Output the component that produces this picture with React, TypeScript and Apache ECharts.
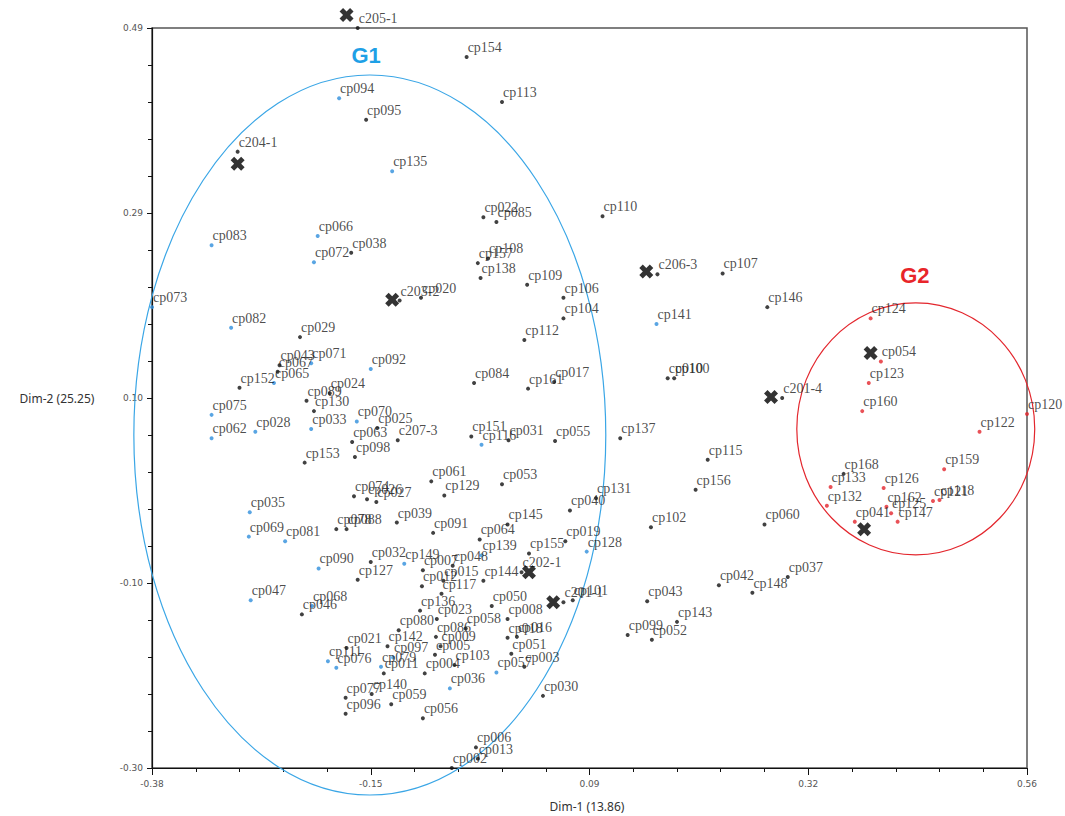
import React, { useEffect, useRef } from "react";
import * as echarts from "echarts";

// [name, Dim-1, Dim-2]
const blackPoints: [string, number, number][] = [
  ["c205-1", -0.159, 0.49],
  ["cp154", -0.042, 0.459],
  ["cp113", -0.004, 0.411],
  ["cp095", -0.15, 0.392],
  ["c204-1", -0.288, 0.358],
  ["cp038", -0.166, 0.25],
  ["cp029", -0.221, 0.16],
  ["c203-2", -0.114, 0.199],
  ["cp020", -0.091, 0.202],
  ["cp043", -0.243, 0.13],
  ["cp067", -0.245, 0.123],
  ["cp152", -0.286, 0.106],
  ["cp089", -0.214, 0.092],
  ["cp024", -0.189, 0.1],
  ["cp130", -0.206, 0.081],
  ["cp025", -0.138, 0.063],
  ["cp063", -0.165, 0.048],
  ["c207-3", -0.116, 0.05],
  ["cp098", -0.162, 0.032],
  ["cp153", -0.216, 0.026],
  ["cp074", -0.163, -0.01],
  ["cp026", -0.149, -0.013],
  ["cp027", -0.139, -0.016],
  ["cp061", -0.08, 0.006],
  ["cp078", -0.182, -0.045],
  ["cp088", -0.171, -0.045],
  ["cp039", -0.117, -0.038],
  ["cp091", -0.078, -0.049],
  ["cp032", -0.145, -0.08],
  ["cp127", -0.159, -0.099],
  ["cp046", -0.219, -0.136],
  ["cp021", -0.171, -0.172],
  ["cp142", -0.127, -0.17],
  ["cp080", -0.115, -0.153],
  ["cp011", -0.131, -0.199],
  ["cp077", -0.172, -0.225],
  ["cp140", -0.144, -0.221],
  ["cp096", -0.172, -0.242],
  ["cp059", -0.123, -0.232],
  ["cp056", -0.089, -0.247],
  ["cp002", -0.058, -0.3],
  ["cp006", -0.032, -0.278],
  ["cp013", -0.03, -0.29],
  ["cp030", 0.04, -0.223],
  ["cp099", 0.131, -0.158],
  ["cp052", 0.157, -0.163],
  ["cp143", 0.184, -0.144],
  ["cp051", 0.006, -0.178],
  ["cp003", 0.02, -0.192],
  ["cp058", -0.043, -0.151],
  ["cp008", 0.002, -0.141],
  ["cp018", 0.002, -0.161],
  ["cp016", 0.012, -0.16],
  ["cp050", -0.015, -0.127],
  ["cp023", -0.074, -0.141],
  ["cp136", -0.092, -0.132],
  ["cp086", -0.075, -0.16],
  ["cp009", -0.07, -0.17],
  ["cp005", -0.076, -0.179],
  ["cp103", -0.055, -0.19],
  ["cp004", -0.087, -0.199],
  ["cp117", -0.069, -0.114],
  ["cp015", -0.067, -0.1],
  ["cp007", -0.089, -0.089],
  ["cp012", -0.09, -0.106],
  ["cp048", -0.057, -0.084],
  ["cp064", -0.028, -0.056],
  ["cp145", 0.002, -0.04],
  ["cp155", 0.025, -0.071],
  ["cp019", 0.064, -0.058],
  ["cp040", 0.069, -0.025],
  ["cp131", 0.097, -0.012],
  ["cp053", -0.004, 0.003],
  ["cp129", -0.066, -0.009],
  ["cp151", -0.037, 0.054],
  ["cp031", 0.003, 0.05],
  ["cp055", 0.053, 0.049],
  ["cp137", 0.123, 0.052],
  ["cp115", 0.217, 0.029],
  ["cp156", 0.204, -0.003],
  ["cp102", 0.156, -0.043],
  ["cp144", -0.024, -0.1],
  ["c202-1", 0.017, -0.091],
  ["cp043", 0.152, -0.122],
  ["cp042", 0.229, -0.105],
  ["cp148", 0.265, -0.113],
  ["cp037", 0.303, -0.096],
  ["cp060", 0.278, -0.04],
  ["c201-1", 0.062, -0.123],
  ["cp101", 0.072, -0.121],
  ["cp022", -0.024, 0.288],
  ["cp085", -0.01, 0.283],
  ["cp110", 0.104, 0.289],
  ["cp157", -0.03, 0.239],
  ["cp108", -0.019, 0.244],
  ["cp138", -0.027, 0.223],
  ["cp109", 0.023, 0.216],
  ["cp106", 0.062, 0.202],
  ["cp104", 0.062, 0.18],
  ["cp112", 0.02, 0.157],
  ["cp084", -0.034, 0.111],
  ["cp161", 0.024, 0.105],
  ["cp017", 0.052, 0.112],
  ["c206-3", 0.163, 0.227],
  ["cp010", 0.174, 0.116],
  ["cp100", 0.181, 0.116],
  ["cp107", 0.233, 0.228],
  ["cp146", 0.281, 0.192],
  ["c201-4", 0.297, 0.095],
  ["cp168", 0.363, 0.014],
];

const bluePoints: [string, number, number][] = [
  ["cp094", -0.179, 0.415],
  ["cp135", -0.122, 0.337],
  ["cp083", -0.316, 0.258],
  ["cp066", -0.202, 0.268],
  ["cp072", -0.206, 0.24],
  ["cp073", -0.38, 0.192],
  ["cp082", -0.295, 0.17],
  ["cp071", -0.209, 0.132],
  ["cp065", -0.249, 0.111],
  ["cp092", -0.145, 0.126],
  ["cp075", -0.316, 0.077],
  ["cp062", -0.316, 0.052],
  ["cp028", -0.269, 0.059],
  ["cp033", -0.209, 0.062],
  ["cp070", -0.16, 0.07],
  ["cp035", -0.275, -0.027],
  ["cp069", -0.276, -0.053],
  ["cp081", -0.237, -0.058],
  ["cp090", -0.201, -0.087],
  ["cp149", -0.109, -0.082],
  ["cp047", -0.274, -0.121],
  ["cp068", -0.208, -0.127],
  ["cp111", -0.191, -0.186],
  ["cp076", -0.182, -0.193],
  ["cp097", -0.121, -0.182],
  ["cp079", -0.134, -0.192],
  ["cp057", -0.01, -0.198],
  ["cp036", -0.06, -0.215],
  ["cp139", -0.026, -0.073],
  ["cp128", 0.087, -0.069],
  ["cp116", -0.026, 0.045],
  ["cp141", 0.162, 0.174],
];

const redPoints: [string, number, number][] = [
  ["cp124", 0.392, 0.18],
  ["cp054", 0.403, 0.134],
  ["cp123", 0.39, 0.111],
  ["cp160", 0.383, 0.081],
  ["cp120", 0.56, 0.078],
  ["cp122", 0.509, 0.059],
  ["cp159", 0.471, 0.019],
  ["cp133", 0.349, 0.0],
  ["cp126", 0.406, -0.001],
  ["cp132", 0.345, -0.02],
  ["cp162", 0.409, -0.021],
  ["cp125", 0.414, -0.028],
  ["cp147", 0.421, -0.037],
  ["cp041", 0.375, -0.037],
  ["cp121", 0.459, -0.015],
  ["cp118", 0.466, -0.014],
];

// bold cross markers
const crossPoints: [number, number][] = [
  [-0.171, 0.504],
  [-0.288, 0.345],
  [-0.122, 0.2],
  [0.151, 0.23],
  [0.285, 0.096],
  [0.025, -0.091],
  [0.051, -0.123],
  [0.392, 0.143],
  [0.385, -0.045],
];

const xTicks = [-0.38, -0.145, 0.09, 0.325, 0.56];
const xTickLabels = ["-0.38", "-0.15", "0.09", "0.32", "0.56"];
const yTicks = [-0.3, -0.1025, 0.095, 0.2925, 0.49];
const yTickLabels = ["-0.30", "-0.10", "0.10", "0.29", "0.49"];

// group outlines: [centerX, centerY, radiusX, radiusY] in data units
const groupG1 = [-0.146, 0.0555, 0.2535, 0.3843];
const groupG2 = [0.4405, 0.062, 0.1278, 0.1345];
const groupG1Label = [-0.15, 0.461];
const groupG2Label = [0.4395, 0.226];

function minorTicks(major: number[]) {
  const out: number[] = [];
  for (let i = 0; i < major.length - 1; i++) {
    const step = (major[i + 1] - major[i]) / 5;
    for (let k = 0; k < 5; k++) out.push(major[i] + k * step);
  }
  out.push(major[major.length - 1]);
  return out;
}

function labelFor(ticks: number[], labels: string[]) {
  return (v: number) => {
    let best = 0;
    for (let i = 0; i < ticks.length; i++) {
      if (Math.abs(ticks[i] - v) < Math.abs(ticks[best] - v)) best = i;
    }
    return labels[best];
  };
}

const CROSS = "path://M3,0 L6,3 L9,0 L12,3 L9,6 L12,9 L9,12 L6,9 L3,12 L0,9 L3,6 L0,3 Z";

export default function App() {
  const ref = useRef<HTMLDivElement>(null);
  useEffect(() => {
    document.body.style.margin = "0";
    const chart = echarts.init(ref.current!, undefined, { renderer: "svg" });
    const labelCfg = {
      show: true,
      position: "right" as const,
      distance: 0,
      offset: [-1, -9.5],
      formatter: (p: any) => p.value[2],
      fontFamily: "Liberation Serif",
      fontSize: 14,
      color: "#1c1c1c",
    };
    const mk = (pts: [string, number, number][], color: string) => ({
      type: "scatter",
      xAxisIndex: 0,
      yAxisIndex: 0,
      data: pts.map((p) => [p[1], p[2], p[0]]),
      symbol: "circle",
      symbolSize: 4,
      itemStyle: { color },
      label: labelCfg,
      clip: false,
      silent: true,
    });
    const axisCommon = {
      type: "value" as const,
      splitLine: { show: false },
    };
    chart.setOption({
      animation: false,
      backgroundColor: "#ffffff",
      grid: { left: 152, right: 38, top: 28, bottom: 48, show: true, borderColor: "#555", borderWidth: 1.5, backgroundColor: "transparent" },
      xAxis: [
        {
          ...axisCommon,
          min: -0.38,
          max: 0.56,
          position: "bottom",
          axisLine: { show: true, onZero: false, lineStyle: { color: "#111", width: 1.2 } },
          axisTick: { show: true, customValues: xTicks, length: 7, lineStyle: { color: "#111" } },
          axisLabel: { customValues: xTicks, formatter: labelFor(xTicks, xTickLabels), fontSize: 9, color: "#555", margin: 11, fontFamily: "DejaVu Sans" },
        },
        {
          ...axisCommon,
          min: -0.38,
          max: 0.56,
          position: "bottom",
          axisLine: { show: false, onZero: false },
          axisTick: { show: true, customValues: minorTicks(xTicks), length: 4, lineStyle: { color: "#111" } },
          axisLabel: { show: false },
        },
      ],
      yAxis: [
        {
          ...axisCommon,
          min: -0.3,
          max: 0.49,
          position: "left",
          axisLine: { show: true, onZero: false, lineStyle: { color: "#111", width: 1.2 } },
          axisTick: { show: true, customValues: yTicks, length: 5, lineStyle: { color: "#111" } },
          axisLabel: { customValues: yTicks, formatter: labelFor(yTicks, yTickLabels), fontSize: 9, color: "#555", margin: 9, fontFamily: "DejaVu Sans" },
        },
        {
          ...axisCommon,
          min: -0.3,
          max: 0.49,
          position: "left",
          axisLine: { show: false, onZero: false },
          axisTick: { show: true, customValues: minorTicks(yTicks), length: 4, lineStyle: { color: "#111" } },
          axisLabel: { show: false },
        },
      ],
      series: [
        mk(bluePoints, "#2f8fdc"),
        mk(redPoints, "#e3262d"),
        mk(blackPoints, "#111111"),
        {
          type: "scatter",
          xAxisIndex: 0,
          yAxisIndex: 0,
          data: crossPoints,
          symbol: CROSS,
          symbolSize: 14,
          itemStyle: { color: "#000" },
          clip: false,
          silent: true,
          z: 5,
        },
      ],
    });

    const px = (x: number, y: number) => chart.convertToPixel({ seriesIndex: 0 }, [x, y]) as number[];
    const ell = (g: number[], color: string) => {
      const c = px(g[0], g[1]);
      const e1 = px(g[0] + g[2], g[1]);
      const e2 = px(g[0], g[1] + g[3]);
      return {
        type: "ellipse",
        silent: true,
        z: 1,
        shape: { cx: c[0], cy: c[1], rx: Math.abs(e1[0] - c[0]), ry: Math.abs(c[1] - e2[1]) },
        style: { fill: "none", stroke: color, lineWidth: 1.2 },
      };
    };
    const gtxt = (pos: number[], text: string, color: string) => {
      const c = px(pos[0], pos[1]);
      return {
        type: "text",
        x: c[0],
        y: c[1],
        silent: true,
        style: { text, fill: color, fontSize: 22, fontWeight: "bold", fontFamily: "Liberation Sans", align: "center", verticalAlign: "middle" },
      };
    };
    chart.setOption({
      graphic: [
        ell(groupG1, "#3aa6e6"),
        ell(groupG2, "#e3262d"),
        gtxt(groupG1Label, "G1", "#1ea0e6"),
        gtxt(groupG2Label, "G2", "#e8252a"),
        {
          type: "text",
          x: 57,
          y: 398,
          silent: true,
          style: { text: "Dim-2 (25.25)", fill: "#333", fontSize: 12, fontFamily: "Noto Sans", align: "center", verticalAlign: "middle" },
        },
        {
          type: "text",
          x: 587,
          y: 806,
          silent: true,
          style: { text: "Dim-1 (13.86)", fill: "#333", fontSize: 12, fontFamily: "Noto Sans", align: "center", verticalAlign: "middle" },
        },
      ],
    });
    return () => chart.dispose();
  }, []);
  return <div ref={ref} style={{ position: "fixed", left: 0, top: 0, width: 1065, height: 816 }} />;
}
